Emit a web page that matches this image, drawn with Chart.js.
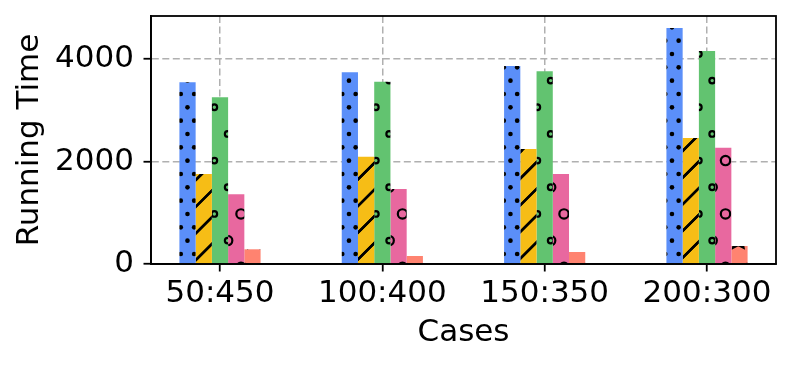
<!DOCTYPE html>
<html><head><meta charset="utf-8">
<script src="https://cdn.jsdelivr.net/npm/chart.js@4"></script>
<style>html,body{margin:0;padding:0;background:#fff;} canvas{display:block;}</style>
</head><body>
<canvas id="c" width="792" height="366"></canvas>
<script>
const categories = ['50:450', '100:400', '150:350', '200:300'];
const seriesBlue = [3545, 3740, 3863, 4605];
const seriesYellow = [1756, 2094, 2244, 2459];
const seriesGreen = [3252, 3557, 3760, 4156];
const seriesPink = [1360, 1463, 1756, 2270];
const seriesSalmon = [287, 156, 234, 351];
const yTicks = [0, 2000, 4000];
const yMax = 4839;
const xLabel = 'Cases';
const yLabel = 'Running Time';

const FONT = 'DejaVu Sans';
const T = 160, U = 160 / 12, V = 160 / 6;

function makeTile(color, dx, drawFn) {
  const c = document.createElement('canvas');
  c.width = T; c.height = T;
  const g = c.getContext('2d');
  g.fillStyle = color; g.fillRect(0, 0, T, T);
  g.strokeStyle = '#000'; g.fillStyle = '#000'; g.lineWidth = 2.2;
  for (const ox of [-T, 0, T]) for (const oy of [-T, 0, T]) {
    g.save(); g.translate(ox + dx, oy); drawFn(g); g.restore();
  }
  return c;
}
function drawDots(g) {
  for (let r = 0; r < 12; r++) {
    const y = 0.67 + U * r, x0 = (r % 2 === 0) ? 0.8 : 0.8 + U / 2;
    for (let k = 0; k < 12; k++) { g.beginPath(); g.arc(x0 + U * k, y, 2.3, 0, Math.PI * 2); g.fill(); }
  }
}
function drawLines(g) {
  g.lineWidth = 2.3;
  for (let n = -2; n < 14; n++) {
    const c = 2.5 + V * n;
    g.beginPath(); g.moveTo(c + 10, -10); g.lineTo(c - 180, 180); g.stroke();
  }
}
function circles(rad) {
  return function (g) {
    for (let r = 0; r < 6; r++) {
      const y = 0.6 + V * r, x0 = (r % 2 === 0) ? 1.0 : 1.0 + V / 2;
      for (let k = 0; k < 6; k++) { g.beginPath(); g.arc(x0 + V * k, y, rad, 0, Math.PI * 2); g.stroke(); }
    }
  };
}
function drawStars(g) {
  const R = 8.9, Ri = 4.45;
  for (let r = 0; r < 6; r++) {
    const y = 0.6 + V * r, x0 = (r % 2 === 0) ? 0.5 : 0.5 + V / 2;
    for (let k = 0; k < 6; k++) {
      const cx = x0 + V * k;
      g.beginPath();
      for (let p = 0; p < 10; p++) {
        const a = -Math.PI / 2 + p * Math.PI / 5, rr = (p % 2 === 0) ? R : Ri;
        const px = cx + rr * Math.cos(a), py = y + rr * Math.sin(a);
        if (p === 0) g.moveTo(px, py); else g.lineTo(px, py);
      }
      g.closePath(); g.stroke();
    }
  }
}

const canvas = document.getElementById('c');
const ctx = canvas.getContext('2d');
const specs = [
  { data: seriesBlue, color: '#5B8FF9', draw: drawDots },
  { data: seriesYellow, color: '#F6BD16', draw: drawLines },
  { data: seriesGreen, color: '#62C370', draw: circles(2.8) },
  { data: seriesPink, color: '#E8689F', draw: circles(4.67) },
  { data: seriesSalmon, color: '#FF8370', draw: drawStars }
];

const frame = {
  id: 'frame',
  afterDraw(chart) {
    const { ctx, chartArea: a } = chart;
    ctx.save(); ctx.strokeStyle = '#000'; ctx.lineWidth = 1.8;
    ctx.strokeRect(a.left, a.top, a.right - a.left, a.bottom - a.top);
    ctx.restore();
  }
};

const gridOpts = { color: '#b0b0b0', lineWidth: 1.5, tickColor: '#000', tickLength: 7.5, tickWidth: 1.8, tickBorderDash: [], offset: false };
const borderOpts = { color: '#000', width: 1.8, dash: [7, 3.5] };
function zeroPad(s) { s.paddingTop = 0; s.paddingBottom = 0; s.paddingLeft = 0; s.paddingRight = 0; }

new Chart(ctx, {
  type: 'bar',
  data: {
    datasets: specs.map(s => ({
      data: s.data.map((v, i) => ({ x: i, y: v })),
      backgroundColor: categories.map((_, g) => ctx.createPattern(makeTile(s.color, 1.5 * g, s.draw), 'repeat')),
      borderWidth: 0
    }))
  },
  options: {
    responsive: false, animation: false, devicePixelRatio: 1,
    layout: { padding: { left: 0, right: 16, top: 16, bottom: 0 } },
    plugins: { legend: { display: false }, tooltip: { enabled: false } },
    datasets: { bar: { categoryPercentage: 0.5, barPercentage: 1.0 } },
    scales: {
      x: {
        type: 'linear', min: -0.425, max: 3.425, offset: false,
        afterBuildTicks: s => { s.ticks = categories.map((_, i) => ({ value: i })); },
        afterFit: s => { s.height = 102; zeroPad(s); },
        ticks: { callback: v => categories[v] ?? '', font: { family: FONT, size: 31 }, color: '#000', padding: 3.5, maxRotation: 0, autoSkip: false },
        grid: gridOpts, border: borderOpts,
        title: { display: true, text: xLabel, font: { family: FONT, size: 31 }, color: '#000', padding: { top: 0, bottom: 14 } }
      },
      y: {
        min: 0, max: yMax,
        afterBuildTicks: s => { s.ticks = yTicks.map(v => ({ value: v })); },
        afterFit: s => { s.width = 151; zeroPad(s); },
        ticks: { callback: v => String(v), font: { family: FONT, size: 31 }, color: '#000', padding: 9.5 },
        grid: gridOpts, border: borderOpts,
        title: { display: true, text: yLabel, font: { family: FONT, size: 31 }, color: '#000', padding: { top: 11.4, bottom: 0 } }
      }
    }
  },
  plugins: [frame]
});
</script>
</body></html>
